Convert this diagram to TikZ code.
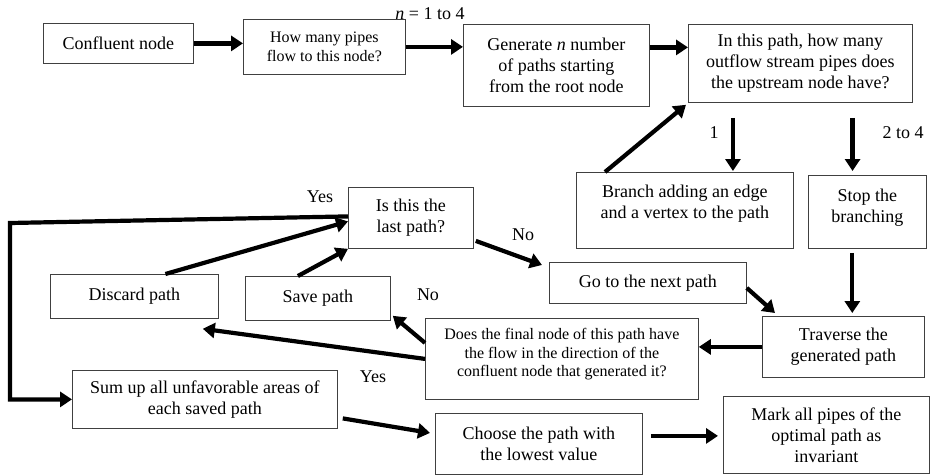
\documentclass[tikz,border=0pt]{standalone}
\usepackage{fontspec}
\setmainfont{Liberation Serif}
\usetikzlibrary{arrows.meta,calc}
\newcommand\fsz[2]{\fontsize{#1}{#2}\selectfont}
\tikzset{
  box/.style={draw=black!75, line width=0.8pt, align=center, inner sep=0pt,
              anchor=north west, font=\fsz{18}{21}},
  smallbox/.style={box, font=\fsz{16}{18.5}},
  flow/.style={line width=4.2pt, -{Triangle[length=12pt,width=15pt]}},
  lbl/.style={font=\fsz{18}{21}, inner sep=0pt}
}
\begin{document}
\begin{tikzpicture}[x=1pt,y=-1pt]
\useasboundingbox (0,0) rectangle (930,475);

% boxes
\node[box, minimum width=150pt, minimum height=40pt] (conf) at (43,23) {Confluent node};
\node[smallbox, minimum width=162pt, minimum height=55pt] (howmany) at (243,19) {How many pipes\\flow to this node?};
\node[box, minimum width=186pt, minimum height=82pt] (gen) at (463,24) {Generate \textit{n} number\\of paths starting\\from the root node};
\node[box, minimum width=224pt, minimum height=78pt] (inpath) at (688,24) {In this path, how many\\outflow stream pipes does\\the upstream node have?};
\node[box, minimum width=217pt, minimum height=76pt] (branch) at (576,172) {Branch adding an edge\\and a vertex to the path\\[-4pt]\mbox{}};
\node[box, minimum width=118pt, minimum height=73pt] (stop) at (808,175) {Stop the\\branching\\[-9pt]\mbox{}};
\node[box, minimum width=125pt, minimum height=61pt] (islast) at (348,187) {Is this the\\last path?};
\node[box, minimum width=168pt, minimum height=44pt] (discard) at (50,274) {Discard path};
\node[box, minimum width=145pt, minimum height=44pt] (save) at (245,276) {Save path};
\node[box, minimum width=197pt, minimum height=41pt] (gonext) at (549,262) {Go to the next path};
\node[box, minimum width=162pt, minimum height=61pt] (trav) at (762,316) {Traverse the\\generated path};
\node[smallbox, minimum width=273pt, minimum height=81pt] (does) at (425,318) {Does the final node of this path have\\the flow in the direction of the\\confluent node that generated it?\\[-6pt]\mbox{}};
\node[box, minimum width=265pt, minimum height=58pt] (sum) at (72,370) {Sum up all unfavorable areas of\\each saved path};
\node[box, minimum width=207pt, minimum height=61pt] (choose) at (435,413) {Choose the path with\\the lowest value};
\node[box, minimum width=206pt, minimum height=77pt] (mark) at (723,396) {Mark all pipes of the\\optimal path as\\invariant};

% labels
\node[lbl] (nlab) at (430,14) {\textit{n} = 1 to 4};
\node[lbl] (one) at (714,133) {1};
\node[lbl] (twofour) at (903,133) {2 to 4};
\node[lbl] (yestop) at (320,197) {Yes};
\node[lbl] (nonext) at (523,235) {No};
\node[lbl] (nosave) at (428,295) {No};
\node[lbl] (yesdisc) at (373,377) {Yes};

% connectors along the top row
\draw[flow] (conf.east) -- (conf.east -| howmany.west);
\draw[flow] (howmany.east) -- (howmany.east -| gen.west);
\draw[flow] ([yshift=18pt]gen.east) -- ([yshift=18pt]gen.east -| inpath.west);

% branching on the number of outflow pipes
\coordinate (p1) at ($(inpath.south west)!0.2!(inpath.south east)$);
\draw[flow, shorten <=15pt, shorten >=1pt] (p1) -- (p1 |- branch.north);
\coordinate (p2) at ($(inpath.south west)!0.732!(inpath.south east)$);
\draw[flow, shorten <=15pt, shorten >=4pt] (p2) -- (p2 |- stop.north);
\draw[flow] ([xshift=29pt]branch.north west) -- ([shift={(-2pt,-2pt)}]inpath.south west);

\coordinate (p3) at ($(stop.south west)!0.373!(stop.south east)$);
\draw[flow, shorten <=4pt, shorten >=3pt] (p3) -- (p3 |- trav.north);
\draw[flow] ([yshift=-5pt]gonext.east) -- ([shift={(13pt,3pt)}]trav.north west);

% last-path test
\draw[flow] ([shift={(2pt,-23pt)}]islast.east) -- ([shift={(-7pt,-3pt)}]gonext.north west);
\draw[flow] ([xshift=31pt]discard.north) -- ([yshift=-3.5pt]islast.west);
\draw[flow] ([xshift=-20pt]save.north) -- (islast.south west);
\coordinate (lc) at (10,223);
\draw[flow, line join=miter] ([yshift=1.5pt]islast.west) -- (lc) -- (lc |- sum.west) -- (sum.west);

% direction test
\draw[flow] (trav.west) -- (trav.west -| does.east);
\draw[flow] ([yshift=16pt]does.west) -- ([shift={(2pt,5pt)}]save.south east);
\draw[flow] (does.west) -- ([shift={(-16pt,-10pt)}]discard.south east);

% final steps
\draw[flow] ([shift={(5pt,-19pt)}]sum.east) -- ([shift={(-5pt,11pt)}]choose.west);
\draw[flow, shorten >=13pt] ([shift={(8pt,8pt)}]choose.east) -- ([shift={(8pt,8pt)}]choose.east -| mark.west);
\end{tikzpicture}
\end{document}
